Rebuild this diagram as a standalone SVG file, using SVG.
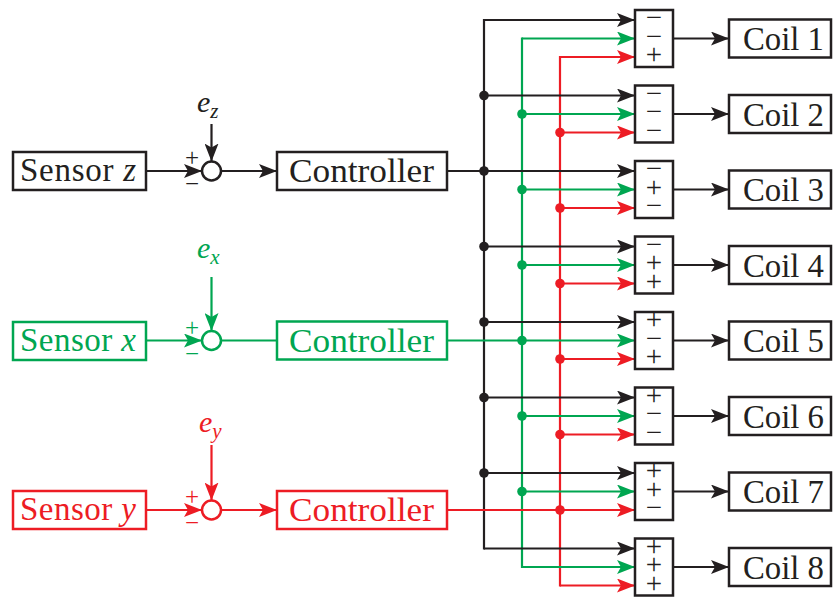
<svg xmlns="http://www.w3.org/2000/svg" width="837" height="597" viewBox="0 0 837 597" font-family="'Liberation Serif', 'DejaVu Serif', serif">
<defs>
<marker id="aK" markerUnits="userSpaceOnUse" markerWidth="18" markerHeight="14" viewBox="0 0 18 14" refX="18" refY="7" orient="auto"><path d="M0,0 L18,7 L0,14 L4,7 Z" fill="#231f20"/></marker>
<marker id="aG" markerUnits="userSpaceOnUse" markerWidth="18" markerHeight="14" viewBox="0 0 18 14" refX="18" refY="7" orient="auto"><path d="M0,0 L18,7 L0,14 L4,7 Z" fill="#00a651"/></marker>
<marker id="aR" markerUnits="userSpaceOnUse" markerWidth="18" markerHeight="14" viewBox="0 0 18 14" refX="18" refY="7" orient="auto"><path d="M0,0 L18,7 L0,14 L4,7 Z" fill="#ed1c24"/></marker>
</defs>
<style>
text, tspan { font-family: "Liberation Serif", "DejaVu Serif", serif; }
.box{fill:#fff;stroke-width:2.5}
.k{stroke:#231f20;fill:none;stroke-width:2.2}
.g{stroke:#00a651;fill:none;stroke-width:2.2}
.r{stroke:#ed1c24;fill:none;stroke-width:2.2}
.tk{fill:#231f20}.tg{fill:#00a651}.tr{fill:#ed1c24}
.lbl{font-size:34px}
.sl{font-size:33px}
.sg{font-size:29px;text-anchor:middle}
.pm{font-size:25px;text-anchor:middle}
.e{font-size:30px;font-style:italic}
.sub{font-size:21px;font-style:italic}
.it{font-style:italic}
.bus{stroke-linecap:square}
</style>

<g id="sensor-z"><rect x="13" y="152" width="133" height="38" class="box" stroke="#231f20"/><text x="20" y="181" class="sl tk" textLength="116" lengthAdjust="spacing">Sensor <tspan class="it">z</tspan></text></g>
<g id="sum-z"><circle cx="211.5" cy="171" r="9.5" class="box" stroke="#231f20"/><text x="192" y="166" class="pm tk">+</text><text x="192" y="192" class="pm tk">−</text></g>
<g id="ez"><text x="197" y="112" class="e tk">e<tspan class="sub" dy="6">z</tspan></text></g>
<g id="ctrl-z"><rect x="277" y="152" width="170" height="38" class="box" stroke="#231f20"/><text x="289" y="182" class="lbl tk" textLength="145" lengthAdjust="spacingAndGlyphs">Controller</text></g>

<g id="sensor-x"><rect x="13" y="322" width="133" height="38" class="box" stroke="#00a651"/><text x="20" y="351" class="sl tg" textLength="116" lengthAdjust="spacing">Sensor <tspan class="it">x</tspan></text></g>
<g id="sum-x"><circle cx="211.5" cy="340.5" r="9.5" class="box" stroke="#00a651"/><text x="192" y="335.5" class="pm tg">+</text><text x="192" y="361.5" class="pm tg">−</text></g>
<g id="ex"><text x="197" y="258" class="e tg">e<tspan class="sub" dy="6">x</tspan></text></g>
<g id="ctrl-x"><rect x="277" y="321.5" width="170" height="38" class="box" stroke="#00a651"/><text x="289" y="351.5" class="lbl tg" textLength="145" lengthAdjust="spacingAndGlyphs">Controller</text></g>

<g id="sensor-y"><rect x="13" y="491" width="133" height="38" class="box" stroke="#ed1c24"/><text x="20" y="520" class="sl tr" textLength="116" lengthAdjust="spacing">Sensor <tspan class="it">y</tspan></text></g>
<g id="sum-y"><circle cx="211.5" cy="510" r="9.5" class="box" stroke="#ed1c24"/><text x="192" y="505" class="pm tr">+</text><text x="192" y="531" class="pm tr">−</text></g>
<g id="ey"><text x="199" y="432" class="e tr">e<tspan class="sub" dy="6">y</tspan></text></g>
<g id="ctrl-y"><rect x="277" y="491" width="170" height="38" class="box" stroke="#ed1c24"/><text x="289" y="521" class="lbl tr" textLength="145" lengthAdjust="spacingAndGlyphs">Controller</text></g>

<g id="connectors">
<line x1="146" y1="171" x2="202" y2="171" class="k" marker-end="url(#aK)"/>
<line x1="211.5" y1="124" x2="211.5" y2="161.5" class="k" marker-end="url(#aK)"/>
<line x1="221" y1="171" x2="277" y2="171" class="k" marker-end="url(#aK)"/>
<line x1="146" y1="340.5" x2="202" y2="340.5" class="g" marker-end="url(#aG)"/>
<line x1="211.5" y1="277" x2="211.5" y2="331" class="g" marker-end="url(#aG)"/>
<line x1="221" y1="340.5" x2="277" y2="340.5" class="g"/>
<line x1="146" y1="510" x2="202" y2="510" class="r" marker-end="url(#aR)"/>
<line x1="211.5" y1="445" x2="211.5" y2="500.5" class="r" marker-end="url(#aR)"/>
<line x1="221" y1="510" x2="277" y2="510" class="r" marker-end="url(#aR)"/>

<line x1="484" y1="20" x2="484" y2="548.5" class="k bus"/>
<line x1="522" y1="38.5" x2="522" y2="567" class="g bus"/>
<line x1="560" y1="57" x2="560" y2="585.5" class="r bus"/>

<line x1="447" y1="171" x2="484" y2="171" class="k"/>
<line x1="447" y1="340.5" x2="522" y2="340.5" class="g"/>
<line x1="447" y1="510" x2="560" y2="510" class="r"/>

<g class="k">
<line x1="484" y1="20" x2="635" y2="20" marker-end="url(#aK)"/>
<line x1="484" y1="95.5" x2="635" y2="95.5" marker-end="url(#aK)"/>
<line x1="484" y1="171" x2="635" y2="171" marker-end="url(#aK)"/>
<line x1="484" y1="246.5" x2="635" y2="246.5" marker-end="url(#aK)"/>
<line x1="484" y1="322" x2="635" y2="322" marker-end="url(#aK)"/>
<line x1="484" y1="397.5" x2="635" y2="397.5" marker-end="url(#aK)"/>
<line x1="484" y1="473" x2="635" y2="473" marker-end="url(#aK)"/>
<line x1="484" y1="548.5" x2="635" y2="548.5" marker-end="url(#aK)"/>
</g>
<g class="g">
<line x1="522" y1="38.5" x2="635" y2="38.5" marker-end="url(#aG)"/>
<line x1="522" y1="114" x2="635" y2="114" marker-end="url(#aG)"/>
<line x1="522" y1="189.5" x2="635" y2="189.5" marker-end="url(#aG)"/>
<line x1="522" y1="265" x2="635" y2="265" marker-end="url(#aG)"/>
<line x1="522" y1="340.5" x2="635" y2="340.5" marker-end="url(#aG)"/>
<line x1="522" y1="416" x2="635" y2="416" marker-end="url(#aG)"/>
<line x1="522" y1="491.5" x2="635" y2="491.5" marker-end="url(#aG)"/>
<line x1="522" y1="567" x2="635" y2="567" marker-end="url(#aG)"/>
</g>
<g class="r">
<line x1="560" y1="57" x2="635" y2="57" marker-end="url(#aR)"/>
<line x1="560" y1="132.5" x2="635" y2="132.5" marker-end="url(#aR)"/>
<line x1="560" y1="208" x2="635" y2="208" marker-end="url(#aR)"/>
<line x1="560" y1="283.5" x2="635" y2="283.5" marker-end="url(#aR)"/>
<line x1="560" y1="359" x2="635" y2="359" marker-end="url(#aR)"/>
<line x1="560" y1="434.5" x2="635" y2="434.5" marker-end="url(#aR)"/>
<line x1="560" y1="510" x2="635" y2="510" marker-end="url(#aR)"/>
<line x1="560" y1="585.5" x2="635" y2="585.5" marker-end="url(#aR)"/>
</g>

<g fill="#231f20">
<circle cx="484" cy="95.5" r="4.8"/><circle cx="484" cy="171" r="4.8"/><circle cx="484" cy="246.5" r="4.8"/><circle cx="484" cy="322" r="4.8"/><circle cx="484" cy="397.5" r="4.8"/><circle cx="484" cy="473" r="4.8"/>
</g>
<g fill="#00a651">
<circle cx="522" cy="114" r="4.8"/><circle cx="522" cy="189.5" r="4.8"/><circle cx="522" cy="265" r="4.8"/><circle cx="522" cy="340.5" r="4.8"/><circle cx="522" cy="416" r="4.8"/><circle cx="522" cy="491.5" r="4.8"/>
</g>
<g fill="#ed1c24">
<circle cx="560" cy="132.5" r="4.8"/><circle cx="560" cy="208" r="4.8"/><circle cx="560" cy="283.5" r="4.8"/><circle cx="560" cy="359" r="4.8"/><circle cx="560" cy="434.5" r="4.8"/><circle cx="560" cy="510" r="4.8"/>
</g>

<g class="k">
<line x1="673" y1="38.5" x2="729" y2="38.5" marker-end="url(#aK)"/>
<line x1="673" y1="114" x2="729" y2="114" marker-end="url(#aK)"/>
<line x1="673" y1="189.5" x2="729" y2="189.5" marker-end="url(#aK)"/>
<line x1="673" y1="265" x2="729" y2="265" marker-end="url(#aK)"/>
<line x1="673" y1="340.5" x2="729" y2="340.5" marker-end="url(#aK)"/>
<line x1="673" y1="416" x2="729" y2="416" marker-end="url(#aK)"/>
<line x1="673" y1="491.5" x2="729" y2="491.5" marker-end="url(#aK)"/>
<line x1="673" y1="567" x2="729" y2="567" marker-end="url(#aK)"/>
</g>
</g>

<g id="sum1"><rect x="635" y="10" width="38" height="57" class="box" stroke="#231f20"/><text x="654" y="27" class="sg tk">−<tspan x="654" dy="18.5">−</tspan><tspan x="654" dy="18.5">+</tspan></text></g>
<g id="sum2"><rect x="635" y="85.5" width="38" height="57" class="box" stroke="#231f20"/><text x="654" y="102.5" class="sg tk">−<tspan x="654" dy="18.5">−</tspan><tspan x="654" dy="18.5">−</tspan></text></g>
<g id="sum3"><rect x="635" y="161" width="38" height="57" class="box" stroke="#231f20"/><text x="654" y="178" class="sg tk">−<tspan x="654" dy="18.5">+</tspan><tspan x="654" dy="18.5">−</tspan></text></g>
<g id="sum4"><rect x="635" y="236.5" width="38" height="57" class="box" stroke="#231f20"/><text x="654" y="253.5" class="sg tk">−<tspan x="654" dy="18.5">+</tspan><tspan x="654" dy="18.5">+</tspan></text></g>
<g id="sum5"><rect x="635" y="312" width="38" height="57" class="box" stroke="#231f20"/><text x="654" y="329" class="sg tk">+<tspan x="654" dy="18.5">−</tspan><tspan x="654" dy="18.5">+</tspan></text></g>
<g id="sum6"><rect x="635" y="387.5" width="38" height="57" class="box" stroke="#231f20"/><text x="654" y="404.5" class="sg tk">+<tspan x="654" dy="18.5">−</tspan><tspan x="654" dy="18.5">−</tspan></text></g>
<g id="sum7"><rect x="635" y="463" width="38" height="57" class="box" stroke="#231f20"/><text x="654" y="480" class="sg tk">+<tspan x="654" dy="18.5">+</tspan><tspan x="654" dy="18.5">−</tspan></text></g>
<g id="sum8"><rect x="635" y="538.5" width="38" height="57" class="box" stroke="#231f20"/><text x="654" y="555.5" class="sg tk">+<tspan x="654" dy="18.5">+</tspan><tspan x="654" dy="18.5">+</tspan></text></g>

<g id="coil1"><rect x="729" y="19.5" width="102" height="38" class="box" stroke="#231f20"/><text x="743" y="50" class="lbl tk" textLength="81" lengthAdjust="spacingAndGlyphs">Coil 1</text></g>
<g id="coil2"><rect x="729" y="95" width="102" height="38" class="box" stroke="#231f20"/><text x="743" y="125.5" class="lbl tk" textLength="81" lengthAdjust="spacingAndGlyphs">Coil 2</text></g>
<g id="coil3"><rect x="729" y="170.5" width="102" height="38" class="box" stroke="#231f20"/><text x="743" y="201" class="lbl tk" textLength="81" lengthAdjust="spacingAndGlyphs">Coil 3</text></g>
<g id="coil4"><rect x="729" y="246" width="102" height="38" class="box" stroke="#231f20"/><text x="743" y="276.5" class="lbl tk" textLength="81" lengthAdjust="spacingAndGlyphs">Coil 4</text></g>
<g id="coil5"><rect x="729" y="321.5" width="102" height="38" class="box" stroke="#231f20"/><text x="743" y="352" class="lbl tk" textLength="81" lengthAdjust="spacingAndGlyphs">Coil 5</text></g>
<g id="coil6"><rect x="729" y="397" width="102" height="38" class="box" stroke="#231f20"/><text x="743" y="427.5" class="lbl tk" textLength="81" lengthAdjust="spacingAndGlyphs">Coil 6</text></g>
<g id="coil7"><rect x="729" y="472.5" width="102" height="38" class="box" stroke="#231f20"/><text x="743" y="503" class="lbl tk" textLength="81" lengthAdjust="spacingAndGlyphs">Coil 7</text></g>
<g id="coil8"><rect x="729" y="548" width="102" height="38" class="box" stroke="#231f20"/><text x="743" y="578.5" class="lbl tk" textLength="81" lengthAdjust="spacingAndGlyphs">Coil 8</text></g>
</svg>
